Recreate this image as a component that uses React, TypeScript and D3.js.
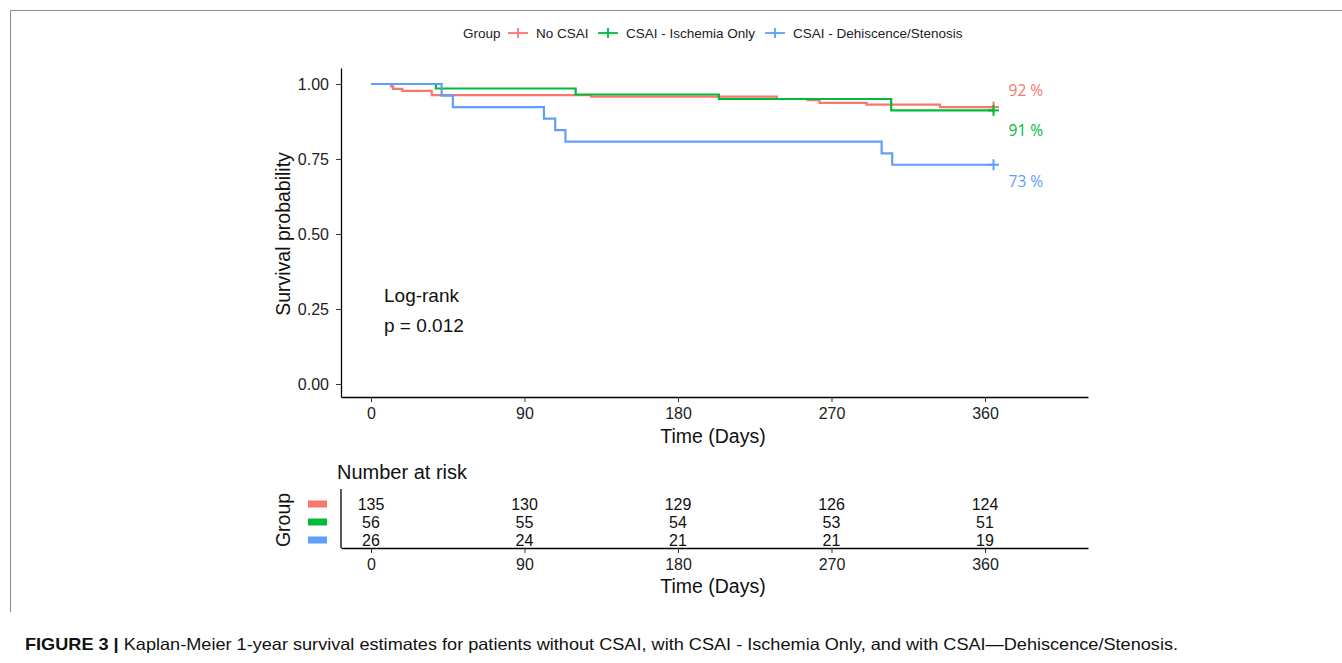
import React, { useEffect, useRef } from 'react';
import * as d3 from 'd3';

// groups and colours (ggplot default hues)
const groups = ['No CSAI', 'CSAI - Ischemia Only', 'CSAI - Dehiscence/Stenosis'];
const colors = ['#F8766D', '#00BA38', '#619CFF'];

// Kaplan-Meier step points (days, survival)
const noCsaiTimes = [0, 11.7, 13, 18.4, 35.6, 129, 238, 256, 263, 290.6, 333.6, 365];
const noCsaiSurv = [1, 0.992, 0.984, 0.977, 0.963, 0.958, 0.95, 0.946, 0.937, 0.931, 0.923, 0.923];
const ischemiaTimes = [0, 38, 120, 204, 305, 365];
const ischemiaSurv = [1, 0.985, 0.965, 0.95, 0.912, 0.912];
const dehiscTimes = [0, 41.4, 48, 101.4, 108, 114, 299.4, 305.6, 365];
const dehiscSurv = [1, 0.9615, 0.923, 0.8846, 0.846, 0.8077, 0.769, 0.7308, 0.7308];

const endLabels = ['92 %', '91 %', '73 %'];

// number at risk table
const riskTimes = [0, 90, 180, 270, 360];
const riskNoCsai = [135, 130, 129, 126, 124];
const riskIschemia = [56, 55, 54, 53, 51];
const riskDehisc = [26, 24, 21, 21, 19];

const xTicks = [0, 90, 180, 270, 360];
const yTicks = [0, 0.25, 0.5, 0.75, 1];

const W = 1342;
const H = 663;
const FONT = '"Liberation Sans", Arial, sans-serif';

export default function App() {
  const ref = useRef<SVGSVGElement>(null);

  useEffect(() => {
    const svg = d3.select(ref.current);
    svg.selectAll('*').remove();

    svg.append('rect').attr('width', W).attr('height', H).attr('fill', '#fff');

    // figure frame
    svg.append('line').attr('x1', 10.5).attr('x2', W).attr('y1', 10.5).attr('y2', 10.5)
      .attr('stroke', '#8a8a8a').attr('stroke-width', 1);
    svg.append('line').attr('x1', 10.5).attr('x2', 10.5).attr('y1', 10.5).attr('y2', 612)
      .attr('stroke', '#8a8a8a').attr('stroke-width', 1);

    const left = 341, right = 1088;
    const x = d3.scaleLinear().domain([-17.6, 420.4]).range([left, right]);
    const y = d3.scaleLinear().domain([-0.0433, 1.0533]).range([397, 68]);

    const series = [
      { t: noCsaiTimes, s: noCsaiSurv },
      { t: ischemiaTimes, s: ischemiaSurv },
      { t: dehiscTimes, s: dehiscSurv },
    ];

    // legend
    const lg = svg.append('g').attr('font-family', FONT).attr('font-size', 13.5).attr('fill', '#222');
    lg.append('text').attr('x', 463).attr('y', 33).attr('dy', '0.35em').text('Group');
    const legendX = [508, 598, 765];
    groups.forEach((g, i) => {
      const lx = legendX[i];
      lg.append('line').attr('x1', lx).attr('x2', lx + 20).attr('y1', 33).attr('y2', 33)
        .attr('stroke', colors[i]).attr('stroke-width', 1.8);
      lg.append('line').attr('x1', lx + 10).attr('x2', lx + 10).attr('y1', 28).attr('y2', 38)
        .attr('stroke', colors[i]).attr('stroke-width', 1.8);
      lg.append('text').attr('x', lx + 28).attr('y', 33).attr('dy', '0.35em').text(g);
    });

    // axes
    const yAxis = svg.append('g').attr('transform', `translate(${left},0)`)
      .call(d3.axisLeft(y).tickValues(yTicks).tickFormat(d3.format('.2f')).tickSize(5).tickSizeOuter(0));
    const xAxis = svg.append('g').attr('transform', `translate(0,397)`)
      .call(d3.axisBottom(x).tickValues(xTicks).tickSize(5).tickSizeOuter(0));
    [yAxis, xAxis].forEach(a => {
      a.select('.domain').attr('stroke', '#000').attr('stroke-width', 1.3);
      a.selectAll('.tick line').attr('stroke', '#333').attr('stroke-width', 1);
      a.selectAll('.tick text').attr('font-family', FONT).attr('font-size', 16).attr('fill', '#222');
    });
    yAxis.selectAll('.tick text').attr('x', -12);
    xAxis.selectAll('.tick text').attr('y', 11);

    svg.append('text').attr('transform', `translate(290,234) rotate(-90)`)
      .attr('text-anchor', 'middle').attr('font-family', FONT).attr('font-size', 19.5)
      .attr('fill', '#111').text('Survival probability');
    svg.append('text').attr('x', 713).attr('y', 443)
      .attr('text-anchor', 'middle').attr('font-family', FONT).attr('font-size', 19.5)
      .attr('fill', '#111').text('Time (Days)');

    // curves
    const line = d3.line<[number, number]>()
      .x(d => x(d[0])).y(d => y(d[1])).curve(d3.curveStepAfter);
    series.forEach((sr, i) => {
      const pts = sr.t.map((t, j) => [t, sr.s[j]] as [number, number]);
      svg.append('path').attr('d', line(pts)).attr('fill', 'none')
        .attr('stroke', colors[i]).attr('stroke-width', 2.2);
      const last = pts[pts.length - 1];
      const cx = x(last[0]), cy = y(last[1]);
      svg.append('line').attr('x1', cx - 5.5).attr('x2', cx + 5.5).attr('y1', cy).attr('y2', cy)
        .attr('stroke', colors[i]).attr('stroke-width', 2);
      svg.append('line').attr('x1', cx).attr('x2', cx).attr('y1', cy - 5.5).attr('y2', cy + 5.5)
        .attr('stroke', colors[i]).attr('stroke-width', 2);
    });

    // end percentages
    const labelOffsets = [-17, 20, 17];
    series.forEach((sr, i) => {
      const lastT = sr.t[sr.t.length - 1];
      const lastS = sr.s[sr.s.length - 1];
      svg.append('text').attr('x', x(lastT) + 15).attr('y', y(lastS) + labelOffsets[i])
        .attr('dy', '0.35em').attr('font-family', '"Open Sans", "Noto Sans", sans-serif')
        .attr('font-size', 15.5).attr('fill', colors[i]).text(endLabels[i]);
    });

    // log-rank annotation
    const ann = svg.append('g').attr('font-family', FONT).attr('font-size', 19).attr('fill', '#111');
    ann.append('text').attr('x', 384).attr('y', 295).attr('dy', '0.35em').text('Log-rank');
    ann.append('text').attr('x', 384).attr('y', 325).attr('dy', '0.35em').text('p = 0.012');

    // risk table
    svg.append('text').attr('x', 337).attr('y', 472).attr('dy', '0.35em')
      .attr('font-family', FONT).attr('font-size', 20).attr('fill', '#111').text('Number at risk');

    const ry = d3.scaleBand<number>().domain([0, 1, 2]).range([495, 549]);
    const tAxis = svg.append('g').attr('transform', `translate(0,548)`)
      .call(d3.axisBottom(x).tickValues(xTicks).tickSize(5).tickSizeOuter(0));
    tAxis.select('.domain').attr('stroke', '#000').attr('stroke-width', 1.3);
    tAxis.selectAll('.tick line').attr('stroke', '#333');
    tAxis.selectAll('.tick text').attr('font-family', FONT).attr('font-size', 16).attr('fill', '#222').attr('y', 11);
    svg.append('line').attr('x1', left).attr('x2', left).attr('y1', 489).attr('y2', 548)
      .attr('stroke', '#000').attr('stroke-width', 1.3);

    const riskRows = [riskNoCsai, riskIschemia, riskDehisc];
    riskRows.forEach((row, i) => {
      const cy = (ry(i) as number) + ry.bandwidth() / 2;
      svg.append('rect').attr('x', 308).attr('y', cy - 3.5).attr('width', 19).attr('height', 7)
        .attr('fill', colors[i]);
      row.forEach((n, j) => {
        svg.append('text').attr('x', x(riskTimes[j])).attr('y', cy).attr('dy', '0.35em')
          .attr('text-anchor', 'middle').attr('font-family', FONT).attr('font-size', 16)
          .attr('fill', '#111').text(n);
      });
    });

    svg.append('text').attr('transform', `translate(290,520) rotate(-90)`)
      .attr('text-anchor', 'middle').attr('font-family', FONT).attr('font-size', 19.5)
      .attr('fill', '#111').text('Group');
    svg.append('text').attr('x', 713).attr('y', 593)
      .attr('text-anchor', 'middle').attr('font-family', FONT).attr('font-size', 19.5)
      .attr('fill', '#111').text('Time (Days)');

    // caption
    const cap = svg.append('text').attr('x', 25).attr('y', 650)
      .attr('font-family', FONT).attr('font-size', 16.5).attr('fill', '#111')
      .attr('textLength', 1153).attr('lengthAdjust', 'spacingAndGlyphs');
    cap.append('tspan').attr('font-weight', 'bold').text('FIGURE 3 | ');
    cap.append('tspan').text('Kaplan-Meier 1-year survival estimates for patients without CSAI, with CSAI - Ischemia Only, and with CSAI\u2014Dehiscence/Stenosis.');
  }, []);

  return (
    <svg ref={ref} width={W} height={H}
      style={{ position: 'absolute', left: 0, top: 0, display: 'block' }} />
  );
}
